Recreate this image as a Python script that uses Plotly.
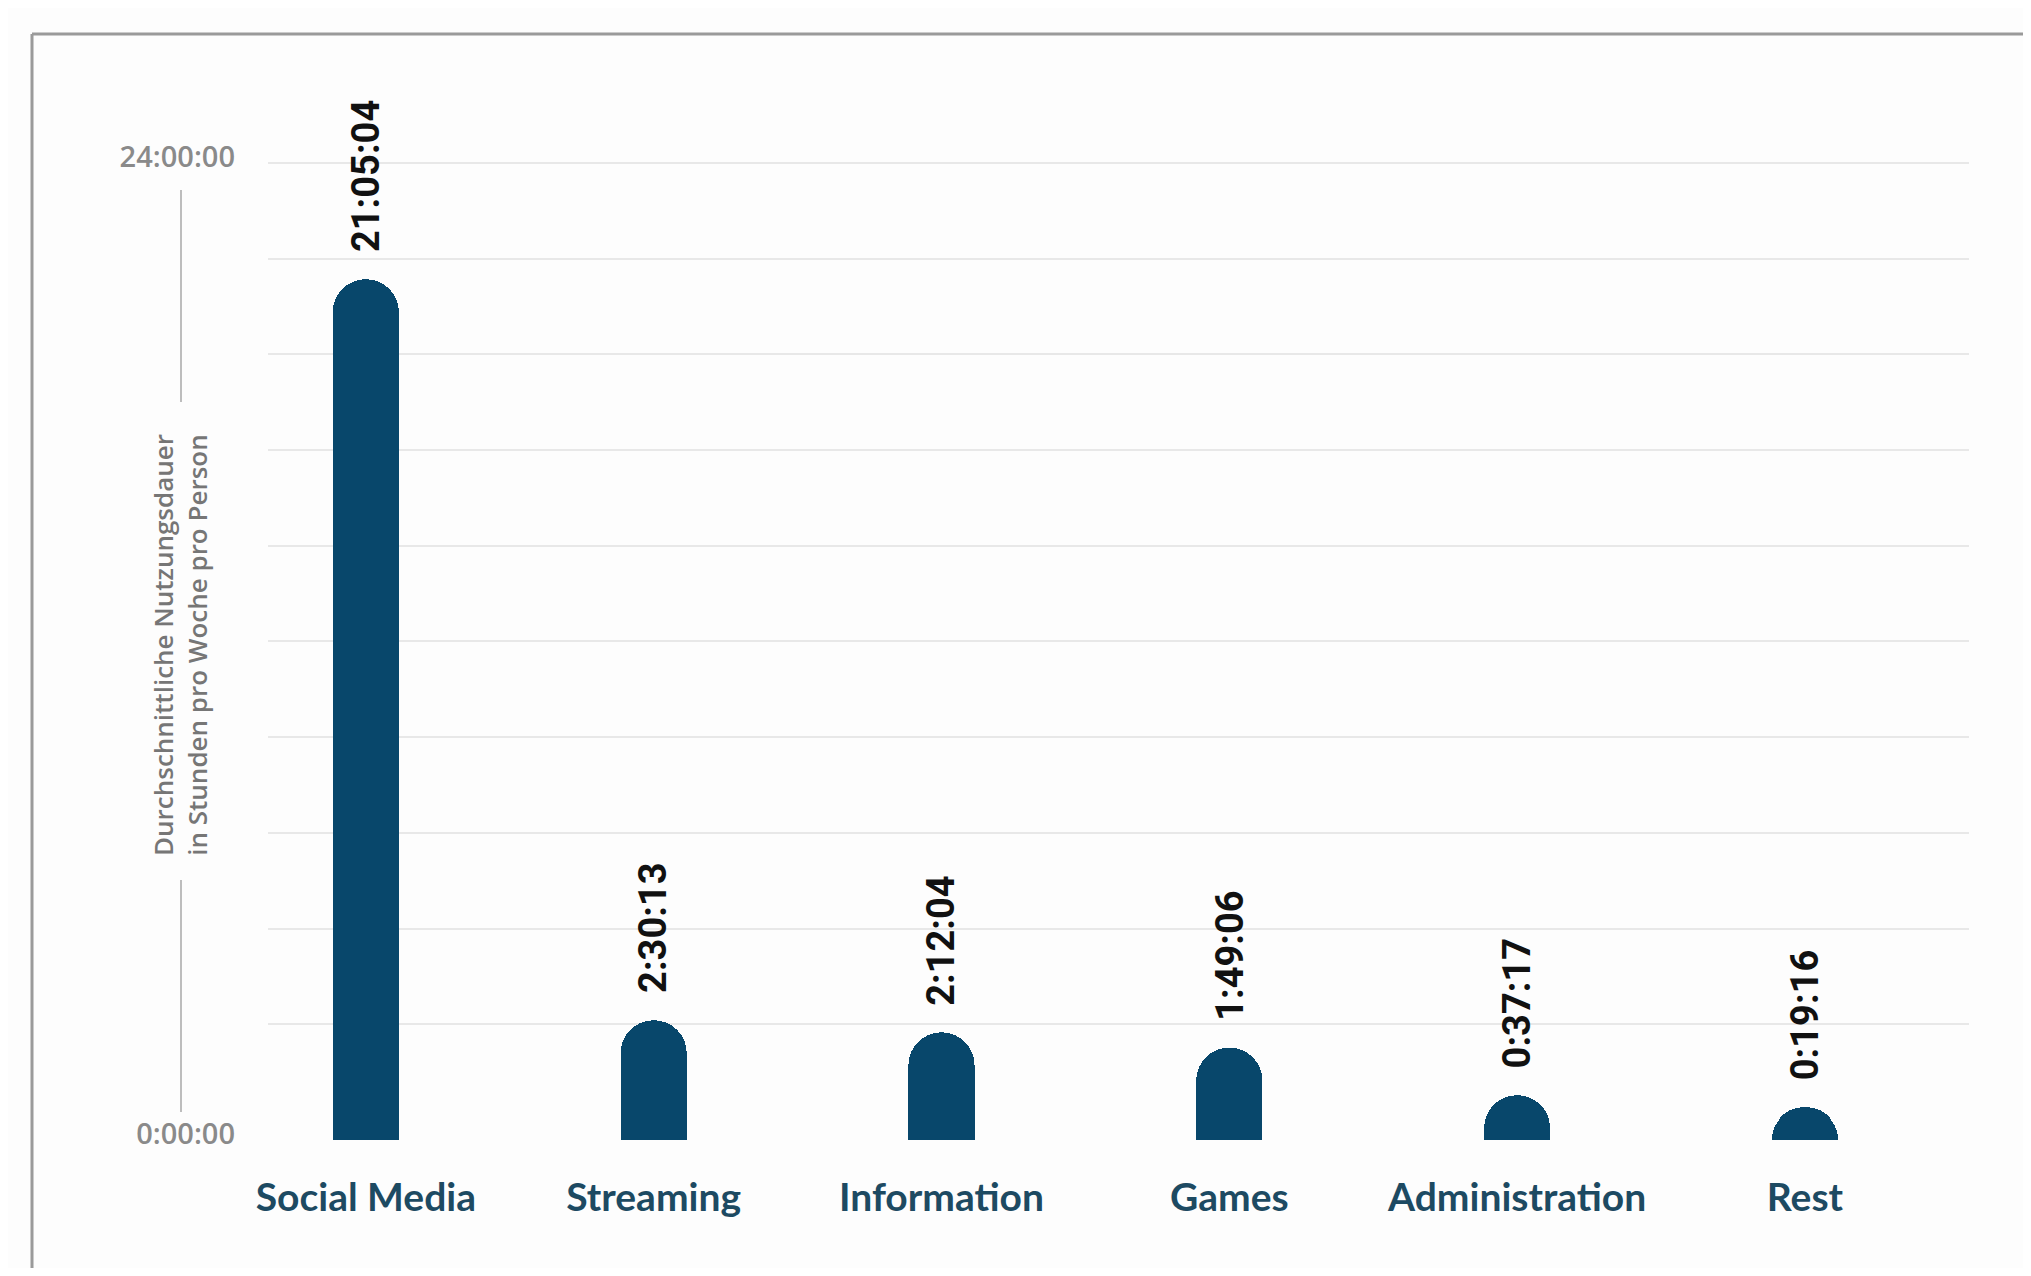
import plotly.graph_objects as go

# ---- data ----
categories = ["Social Media", "Streaming", "Information", "Games", "Administration", "Rest"]
durations = ["21:05:04", "2:30:13", "2:12:04", "1:49:06", "0:37:17", "0:19:16"]
tick_labels = ["0:00:00", "24:00:00"]
y_title = "Durchschnittliche Nutzungsdauer<br>in Stunden pro Woche pro Person"


def to_hours(s):
    h, m, sec = (int(p) for p in s.split(":"))
    return h + m / 60 + sec / 3600


hours = [to_hours(d) for d in durations]

# ---- layout geometry (page has an 8px body margin) ----
OFF = 8
W, H = 2031 - 2 * OFF, 1276 - 2 * OFF
PLOT_L, PLOT_R, PLOT_T, PLOT_B = 268, 1969, 60, 1140   # in screen pixels
L, R = PLOT_L - OFF, W - (PLOT_R - OFF)
T, B = PLOT_T - OFF, H - (PLOT_B - OFF)
PW, PH = W - L - R, H - T - B
FOOT = 0.5         # bars start a little below the zero line, as in the original
YTOP = 27.08


def px(x):
    return (x - PLOT_L) / PW


def py(y):
    return (PLOT_B - y) / PH


BAR = "#08476B"
LABEL = "#1D4A62"
GRID = "#E8E8E8"

fig = go.Figure()
# square foot of each bar below the zero line
fig.add_trace(go.Bar(
    x=categories,
    y=[FOOT] * len(categories),
    width=0.23,
    marker=dict(color=BAR, line=dict(width=0)),
    hoverinfo="skip",
))
# the bars with rounded tops
fig.add_trace(go.Bar(
    x=categories,
    y=hours,
    width=0.23,
    marker=dict(color=BAR, cornerradius="50%", line=dict(width=0)),
    hovertext=durations,
    hoverinfo="x+text",
))

annotations = []
for c, h, d in zip(categories, hours, durations):
    annotations.append(dict(
        x=c, y=h + FOOT, xref="x", yref="y", text=d, showarrow=False,
        textangle=-90, yanchor="bottom", xanchor="center", yshift=25,
        font=dict(family="Roboto", size=38, color="#111111", weight="bold"),
    ))

annotations.append(dict(
    x=px(180), y=py(645), xref="paper", yref="paper", text=y_title,
    showarrow=False, textangle=-90, xanchor="center", yanchor="middle",
    font=dict(family="Open Sans", size=26, color="#767676", weight=600),
))

grid_vals = [0] + [FOOT + 2.4 * k for k in range(1, 11)]
grid_text = [tick_labels[0]] + [""] * 9 + [tick_labels[1]]

shapes = [
    # frame (top and left border)
    dict(type="line", xref="paper", yref="paper", x0=px(32), x1=px(2060), y0=py(34), y1=py(34),
         line=dict(color="#9A9A9A", width=3)),
    dict(type="line", xref="paper", yref="paper", x0=px(32), x1=px(32), y0=py(34), y1=py(1300),
         line=dict(color="#9A9A9A", width=3)),
    # axis-title bracket lines
    dict(type="line", xref="paper", yref="paper", x0=px(181), x1=px(181), y0=py(190), y1=py(402),
         line=dict(color="#BDBDBD", width=2)),
    dict(type="line", xref="paper", yref="paper", x0=px(181), x1=px(181), y0=py(880), y1=py(1112),
         line=dict(color="#BDBDBD", width=2)),
]

fig.update_layout(
    width=W, height=H,
    margin=dict(l=L, r=R, t=T, b=B),
    paper_bgcolor="#FDFDFD",
    plot_bgcolor="#FDFDFD",
    showlegend=False,
    barmode="stack",
    annotations=annotations,
    shapes=shapes,
    xaxis=dict(
        type="category",
        range=[-0.34, 5.57],
        showgrid=False, zeroline=False, showline=False,
        ticks="",
        tickfont=dict(family="Lato", size=39, color=LABEL, weight="bold"),
        ticklabelstandoff=31,
        fixedrange=True,
    ),
    yaxis=dict(
        range=[0, YTOP],
        tickvals=grid_vals,
        ticktext=grid_text,
        showgrid=True, gridcolor=GRID, gridwidth=2,
        zeroline=False, showline=False, ticks="",
        tickfont=dict(family="Open Sans", size=29, color="#8A8A8A", weight=600),
        ticklabelstandoff=32,
        ticklabelshift=-6,
        fixedrange=True,
    ),
)

fig.write_html("out.html")
